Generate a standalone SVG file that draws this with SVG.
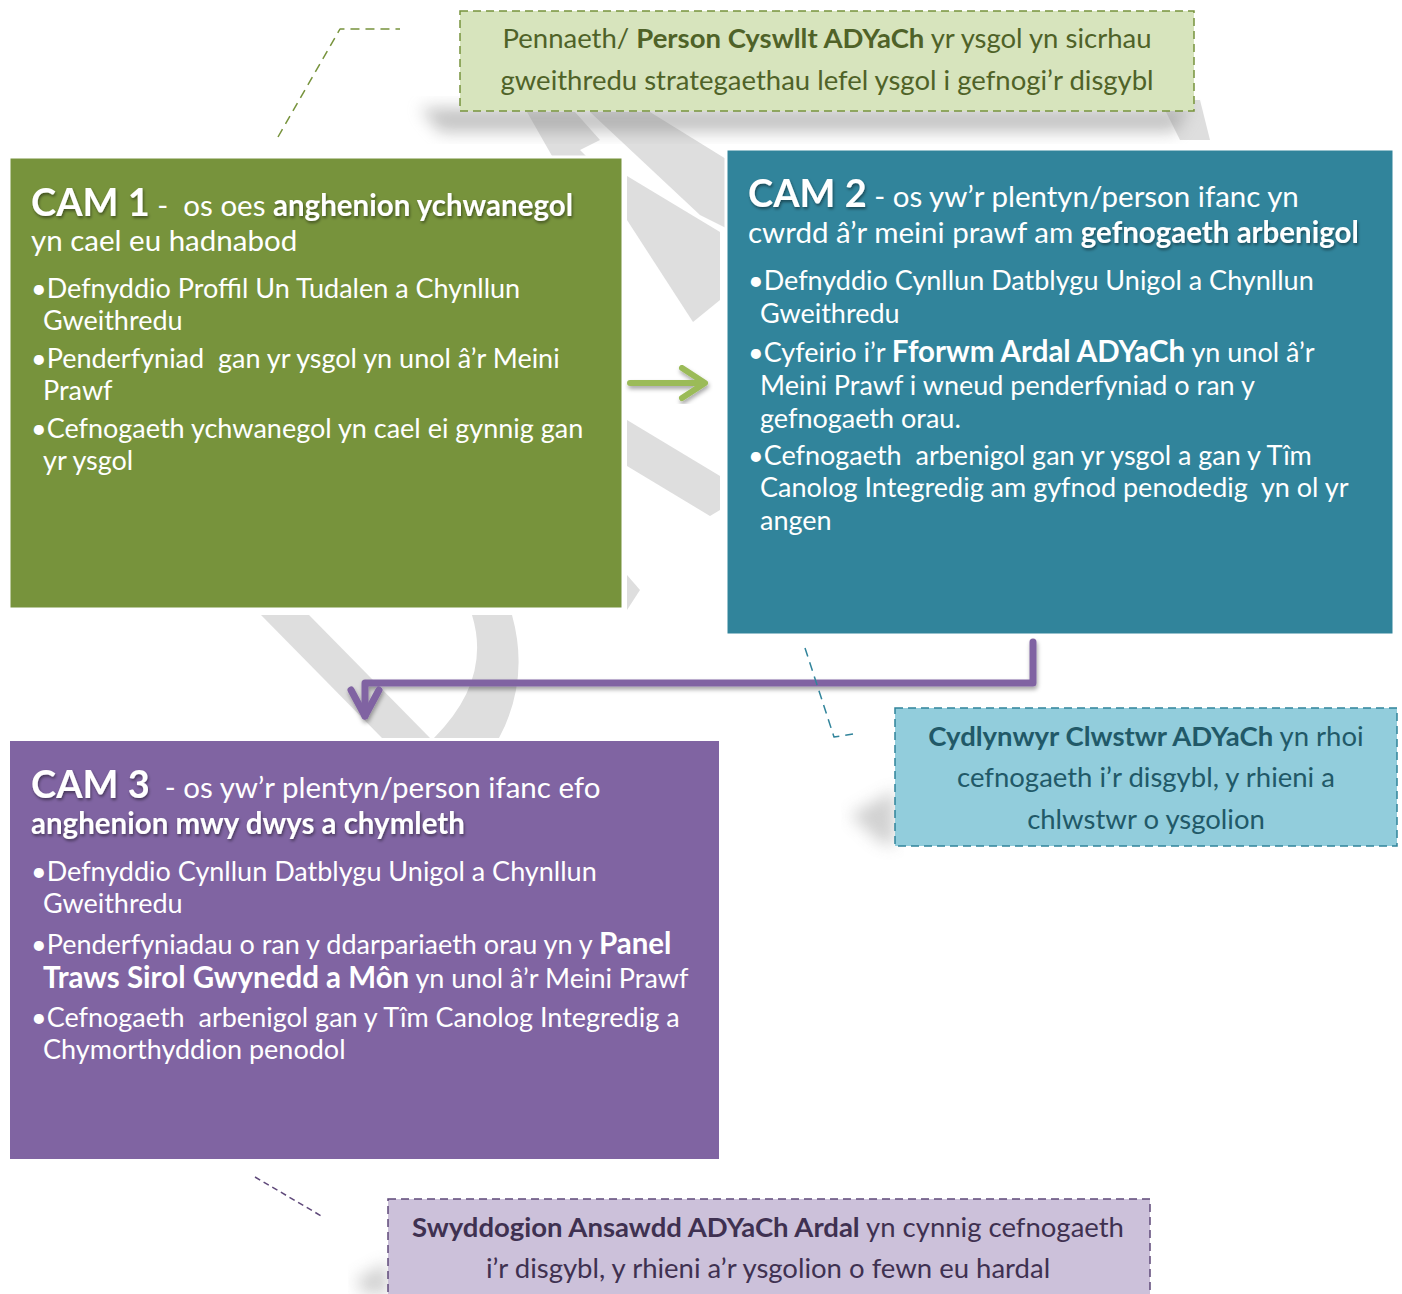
<svg xmlns="http://www.w3.org/2000/svg" width="1402" height="1294" viewBox="0 0 1402 1294">
<style>
text{font-family:Lato,"Liberation Sans",sans-serif}
.b{font-weight:bold}
.cam{font-size:38px;font-weight:bold;fill:#fff}
.sub{font-size:29.5px;fill:#fff}
.bul{font-size:27px;fill:#fff}
.bb{font-weight:bold;font-size:29.5px}
.bg{fill:#dedede}
</style>
<defs>
<filter id="blur" x="-20%" y="-50%" width="140%" height="200%"><feGaussianBlur stdDeviation="8"/></filter>
<filter id="ts" x="-10%" y="-20%" width="120%" height="140%"><feDropShadow dx="1" dy="2" stdDeviation="1.5" flood-color="#000" flood-opacity="0.45"/></filter>
<filter id="ls" x="-10%" y="-10%" width="120%" height="130%"><feDropShadow dx="1" dy="3" stdDeviation="2" flood-color="#000" flood-opacity="0.35"/></filter>
</defs>
<rect width="1402" height="1294" fill="#fff"/>
<g id="background">
<polygon class="bg" points="527,112 575,112 600,140 580,150 600,170 560,170"/>
<polygon class="bg" points="590,112 650,112 760,180 760,245 700,215"/>
<polygon class="bg" points="1160,100 1200,100 1210,140 1180,140"/>
<polygon class="bg" points="627,176 720,232 720,300 693,322 627,220"/>
<polygon class="bg" points="627,420 720,476 720,510 710,516 627,466"/>
<polygon class="bg" points="627,575 640,590 627,610"/>
<polygon class="bg" points="261,615 309,615 430,738 382,738"/>
<path class="bg" d="M472,615 L512,615 Q530,680 499,738 L434,738 Q492,680 472,615 Z"/>
</g>
<g id="shadows">
<polygon points="420,108 1190,108 1175,132 440,132" fill="#8a8a8a" opacity="0.5" filter="url(#blur)"/>
<polygon points="895,790 895,846 880,842 850,815" fill="#9a9a9a" opacity="0.45" filter="url(#blur)"/>
<polygon points="388,1262 388,1294 365,1294 355,1280" fill="#9a9a9a" opacity="0.45" filter="url(#blur)"/>
</g>
<g id="connectors" fill="none" stroke-linecap="round" stroke-linejoin="round">
<g filter="url(#ls)">
<path d="M630,383 H703 M682,368 L705,383 L682,398" stroke="#9bbb59" stroke-width="6"/>
</g>
<g filter="url(#ls)">
<path d="M1033,642 V683 H365 V716" stroke="#8064a2" stroke-width="7"/>
<path d="M351,690 L365,716 L379,690" stroke="#8064a2" stroke-width="7"/>
</g>
<path d="M278,137 L340,29 H400" stroke="#77933c" stroke-width="1.5" stroke-dasharray="9,6" stroke-linecap="butt"/>
<path d="M805,648 L834,737 L853,734" stroke="#31849b" stroke-width="1.5" stroke-dasharray="9,6" stroke-linecap="butt"/>
<path d="M255,1177 L323,1217" stroke="#5f497a" stroke-width="1.5" stroke-dasharray="6,4" stroke-linecap="butt"/>
</g>
<g id="callout-top">
<rect x="460" y="11" width="734" height="100" fill="#d7e4bd" stroke="#77933c" stroke-width="1.5" stroke-dasharray="8,5"/>
<text x="827" y="48" text-anchor="middle" font-size="27.5" fill="#4f6228">Pennaeth/ <tspan class="b">Person Cyswllt ADYaCh</tspan> yr ysgol yn sicrhau</text>
<text x="827" y="90" text-anchor="middle" font-size="27.5" fill="#4f6228">gweithredu strategaethau lefel ysgol i gefnogi’r disgybl</text>
</g>
<g id="cam1">
<rect x="9" y="157" width="614" height="452" fill="#77933c" stroke="#fff" stroke-width="3"/>
<text x="31" y="216" xml:space="preserve"><tspan class="cam" filter="url(#ts)">CAM 1</tspan><tspan class="sub"> -  os oes </tspan><tspan class="sub b" filter="url(#ts)">anghenion ychwanegol</tspan></text>
<text x="31" y="251" class="sub">yn cael eu hadnabod</text>
<text class="bul" xml:space="preserve"><tspan x="31" y="298">•Defnyddio Proffil Un Tudalen a Chynllun</tspan><tspan x="43" y="330">Gweithredu</tspan><tspan x="31" y="368">•Penderfyniad  gan yr ysgol yn unol â’r Meini</tspan><tspan x="43" y="400">Prawf</tspan><tspan x="31" y="438">•Cefnogaeth ychwanegol yn cael ei gynnig gan</tspan><tspan x="43" y="470">yr ysgol</tspan></text>
</g>
<g id="cam2">
<rect x="726" y="149" width="668" height="486" fill="#31849b" stroke="#fff" stroke-width="3"/>
<text x="748" y="207"><tspan class="cam" filter="url(#ts)">CAM 2</tspan><tspan class="sub"> - os yw’r plentyn/person ifanc yn</tspan></text>
<text x="748" y="243" class="sub">cwrdd â’r meini prawf am <tspan class="b" filter="url(#ts)">gefnogaeth arbenigol</tspan></text>
<text class="bul" xml:space="preserve"><tspan x="748" y="290">•Defnyddio Cynllun Datblygu Unigol a Chynllun</tspan><tspan x="760" y="323">Gweithredu</tspan><tspan x="748" y="362">•Cyfeirio i’r <tspan class="bb">Fforwm Ardal ADYaCh</tspan> yn unol â’r</tspan><tspan x="760" y="395">Meini Prawf i wneud penderfyniad o ran y</tspan><tspan x="760" y="428">gefnogaeth orau.</tspan><tspan x="748" y="465">•Cefnogaeth  arbenigol gan yr ysgol a gan y Tîm</tspan><tspan x="760" y="497">Canolog Integredig am gyfnod penodedig  yn ol yr</tspan><tspan x="760" y="530">angen</tspan></text>
</g>
<g id="cam3">
<rect x="9" y="740" width="711" height="420" fill="#8064a2" stroke="#fff" stroke-width="2"/>
<text x="31" y="798" xml:space="preserve"><tspan class="cam" filter="url(#ts)">CAM 3</tspan><tspan class="sub">  - os yw’r plentyn/person ifanc efo</tspan></text>
<text x="31" y="834" class="sub b" filter="url(#ts)">anghenion mwy dwys a chymleth</text>
<text class="bul" xml:space="preserve"><tspan x="31" y="881">•Defnyddio Cynllun Datblygu Unigol a Chynllun</tspan><tspan x="43" y="913">Gweithredu</tspan><tspan x="31" y="954">•Penderfyniadau o ran y ddarpariaeth orau yn y <tspan class="bb">Panel</tspan></tspan><tspan x="43" y="988"><tspan class="bb">Traws Sirol Gwynedd a Môn</tspan> yn unol â’r Meini Prawf</tspan><tspan x="31" y="1027">•Cefnogaeth  arbenigol gan y Tîm Canolog Integredig a</tspan><tspan x="43" y="1059">Chymorthyddion penodol</tspan></text>
</g>
<g id="callout-cluster">
<rect x="895" y="708" width="502" height="138" fill="#92cddc" stroke="#31849b" stroke-width="1.5" stroke-dasharray="8,5"/>
<text text-anchor="middle" font-size="27.5" fill="#215968"><tspan x="1146" y="746"><tspan class="b">Cydlynwyr Clwstwr ADYaCh</tspan> yn rhoi</tspan><tspan x="1146" y="787">cefnogaeth i’r disgybl, y rhieni a</tspan><tspan x="1146" y="829">chlwstwr o ysgolion</tspan></text>
</g>
<g id="callout-area">
<rect x="388" y="1199" width="762" height="110" fill="#ccc1da" stroke="#5f497a" stroke-width="1.5" stroke-dasharray="8,5"/>
<text text-anchor="middle" font-size="27.5" fill="#3f3151"><tspan x="768" y="1237"><tspan class="b">Swyddogion Ansawdd ADYaCh Ardal</tspan> yn cynnig cefnogaeth</tspan><tspan x="768" y="1278">i’r disgybl, y rhieni a’r ysgolion o fewn eu hardal</tspan></text>
</g>
</svg>
